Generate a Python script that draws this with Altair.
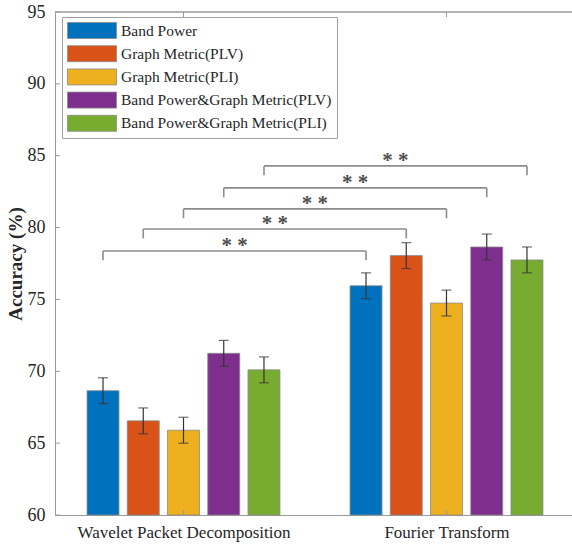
import altair as alt
import pandas as pd

groups = ["Wavelet Packet Decomposition", "Fourier Transform"]
series = ["Band Power", "Graph Metric(PLV)", "Graph Metric(PLI)",
          "Band Power&Graph Metric(PLV)", "Band Power&Graph Metric(PLI)"]
colors = ["#0072BD", "#D95319", "#EDB120", "#7E2F8E", "#77AC30"]
acc_wpd = [68.65, 66.55, 65.9, 71.25, 70.1]
acc_ft = [75.95, 78.05, 74.75, 78.65, 77.75]
err_wpd = [0.9, 0.9, 0.9, 0.9, 0.9]
err_ft = [0.9, 0.9, 0.9, 0.9, 0.9]
bracket_series = [0, 1, 2, 3, 4]
bracket_levels = [78.37, 79.9, 81.3, 82.76, 84.29]
sig_labels = ["* *", "* *", "* *", "* *", "* *"]
y_ticks = [60, 65, 70, 75, 80, 85, 90, 95]

# layout constants (scale units)
STEP = 0.153
HALF = 0.0608
DROP = 0.65
W, H = 517, 503
FONT = "Liberation Serif, Times New Roman, Times, serif"
TXT = "#262626"
AX = "#9a9a9a"

rows = []
for gi, (accs, errs) in enumerate([(acc_wpd, err_wpd), (acc_ft, err_ft)]):
    for si, s in enumerate(series):
        rows.append({"group": groups[gi], "gi": gi, "si": si, "series": s,
                     "acc": accs[si], "err": errs[si]})
df = pd.DataFrame(rows)

br = pd.DataFrame({"si": bracket_series, "level": bracket_levels, "label": sig_labels})
ticks_df = pd.DataFrame({"t": y_ticks})
gx_df = pd.DataFrame({"g": [1, 2]})

xscale = alt.Scale(domain=[0.5114, 2.4772], nice=False, zero=False)
yscale = alt.Scale(domain=[60, 95], nice=False, zero=False)
label_expr = f"datum.value == 1 ? '{groups[0]}' : '{groups[1]}'"
xaxis = alt.Axis(values=[1, 2], labelExpr=label_expr, ticks=False, grid=False,
                 domainColor=AX, domainWidth=1, labelFont=FONT, labelFontSize=17,
                 labelColor=TXT, labelPadding=9, labelLimit=400, title=None)
yaxis = alt.Axis(values=y_ticks, ticks=False, grid=False, domainColor=AX, domainWidth=1,
                 labelFont=FONT, labelFontSize=18, labelColor=TXT, labelPadding=10,
                 title="Accuracy (%)", titleFont=FONT, titleFontSize=19,
                 titleFontWeight="bold", titleColor=TXT, titlePadding=2)

base = alt.Chart(df).transform_calculate(
    pos=f"datum.gi + 1 + (datum.si - 2) * {STEP}",
    xl=f"datum.gi + 1 + (datum.si - 2) * {STEP} - {HALF}",
    xr=f"datum.gi + 1 + (datum.si - 2) * {STEP} + {HALF}",
    lo="datum.acc - datum.err",
    hi="datum.acc + datum.err",
)

bars = base.mark_bar(stroke="#8a8a8a", strokeWidth=0.8).encode(
    x=alt.X("xl:Q", scale=xscale, axis=xaxis),
    x2="xr:Q",
    y=alt.Y("acc:Q", scale=yscale, axis=yaxis),
    y2=alt.datum(60),
    color=alt.Color("series:N", scale=alt.Scale(domain=series, range=colors),
                    legend=alt.Legend(title=None, orient="none", legendX=7, legendY=5,
                                      symbolType="M-1,-1H5.125V1H-1Z", symbolSize=256,
                                      symbolStrokeColor="#8a8a8a", symbolStrokeWidth=0.8,
                                      symbolOpacity=1, labelFont=FONT, labelFontSize=15.5,
                                      labelColor=TXT, labelOffset=37, padding=5,
                                      rowPadding=2.2, strokeColor="#a0a0a0",
                                      fillColor="white", labelLimit=400)),
)

err_rule = base.mark_rule(color="#333333", strokeWidth=1.2).encode(
    x=alt.X("pos:Q", scale=xscale, axis=xaxis),
    y=alt.Y("lo:Q", scale=yscale, axis=yaxis),
    y2="hi:Q",
)
cap_lo = base.mark_tick(orient="horizontal", size=10, thickness=1.2, color="#333333").encode(
    x=alt.X("pos:Q", scale=xscale, axis=xaxis),
    y=alt.Y("lo:Q", scale=yscale, axis=yaxis),
)
cap_hi = base.mark_tick(orient="horizontal", size=10, thickness=1.2, color="#333333").encode(
    x=alt.X("pos:Q", scale=xscale, axis=xaxis),
    y=alt.Y("hi:Q", scale=yscale, axis=yaxis),
)

bbase = alt.Chart(br).transform_calculate(
    x1=f"1 + (datum.si - 2) * {STEP}",
    x2=f"2 + (datum.si - 2) * {STEP}",
    mid=f"1.5 + (datum.si - 2) * {STEP}",
    low=f"datum.level - {DROP}",
)
BR = "#8c8c8c"
br_h = bbase.mark_rule(color=BR, strokeWidth=1.6).encode(
    x=alt.X("x1:Q", scale=xscale, axis=xaxis), x2="x2:Q",
    y=alt.Y("level:Q", scale=yscale, axis=yaxis),
)
br_l = bbase.mark_rule(color=BR, strokeWidth=1.6).encode(
    x=alt.X("x1:Q", scale=xscale, axis=xaxis),
    y=alt.Y("level:Q", scale=yscale, axis=yaxis), y2="low:Q",
)
br_r = bbase.mark_rule(color=BR, strokeWidth=1.6).encode(
    x=alt.X("x2:Q", scale=xscale, axis=xaxis),
    y=alt.Y("level:Q", scale=yscale, axis=yaxis), y2="low:Q",
)
stars = bbase.mark_text(font=FONT, fontSize=21, fontWeight="bold", color="#4d4d4d",
                        baseline="alphabetic", align="center", dy=1).encode(
    x=alt.X("mid:Q", scale=xscale, axis=xaxis),
    y=alt.Y("level:Q", scale=yscale, axis=yaxis),
    text="label:N",
)

top_line = alt.Chart(gx_df).mark_rule(color=AX, strokeWidth=1).encode(
    x=alt.value(0), x2=alt.value(W), y=alt.value(0)
)
ytick = alt.Chart(ticks_df).mark_rule(color=AX, strokeWidth=1).encode(
    y=alt.Y("t:Q", scale=yscale, axis=yaxis), x=alt.value(0), x2=alt.value(5)
)
xtick_b = alt.Chart(gx_df).mark_rule(color=AX, strokeWidth=1).encode(
    x=alt.X("g:Q", scale=xscale, axis=xaxis), y=alt.value(H), y2=alt.value(H - 5)
)
xtick_t = alt.Chart(gx_df).mark_rule(color=AX, strokeWidth=1).encode(
    x=alt.X("g:Q", scale=xscale, axis=xaxis), y=alt.value(0), y2=alt.value(5)
)

chart = alt.layer(
    bars, err_rule, cap_lo, cap_hi, br_h, br_l, br_r, stars,
    top_line, ytick, xtick_b, xtick_t
).properties(
    width=W, height=H,
    autosize=alt.AutoSizeParams(type="none"),
    padding={"left": 55, "top": 12, "right": 0, "bottom": 34},
    background="white",
).configure_view(stroke=None)

chart.save("out.html", embed_options={"renderer": "svg", "actions": False})
